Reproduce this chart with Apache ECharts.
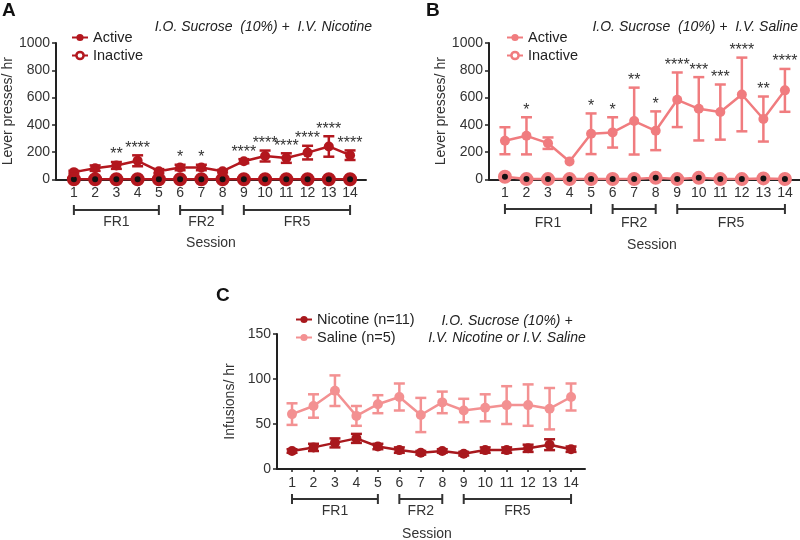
<!DOCTYPE html>
<html>
<head>
<meta charset="utf-8">
<script src="https://cdn.jsdelivr.net/npm/echarts@6/dist/echarts.min.js"></script>
<style>
  html, body { margin: 0; padding: 0; background: #fff; }
  #chart { width: 800px; height: 540px; }
</style>
</head>
<body>
<div id="chart"></div>
<script>
// sessions 1..14
const sessions = [1, 2, 3, 4, 5, 6, 7, 8, 9, 10, 11, 12, 13, 14];

// A: sucrose + nicotine, lever presses / hr (mean, sem)
const activeA = [54, 83, 103, 137, 61, 88, 88, 61, 134, 172, 157, 197, 242, 178];
const activeASem = [10, 20, 25, 40, 15, 20, 20, 10, 15, 40, 35, 50, 75, 35];
const inactiveA = [2, 2, 2, 2, 2, 2, 2, 2, 2, 2, 2, 2, 2, 2];
const starsA = ['', '', '**', '****', '', '*', '*', '', '****', '****', '****', '****', '****', '****'];

// B: sucrose + saline
const activeB = [284, 320, 266, 132, 335, 345, 428, 357, 584, 518, 494, 623, 443, 653];
const activeBSem = [99, 136, 42, 0, 149, 111, 245, 142, 200, 232, 202, 270, 165, 157];
const inactiveB = [20, 3, 3, 3, 3, 4, 4, 12, 3, 12, 3, 3, 8, 4];
const starsB = ['', '*', '', '', '*', '*', '**', '*', '****', '***', '***', '****', '**', '****'];

// C: infusions / hr
const nicotineC = [20, 24, 29, 34, 25, 21, 18, 20, 17, 21, 21, 23, 27, 22];
const nicotineCSem = [2, 4, 5, 5, 3, 3, 2, 2, 2, 3, 3, 4, 6, 3];
const salineC = [61, 70, 87, 59, 72, 80, 60, 74, 65, 68, 71, 71, 67, 80];
const salineCSem = [12, 13, 17, 11, 10, 15, 19, 12, 13, 15, 21, 23, 23, 15];

// schedule brackets
const phases = [
    { label: 'FR1', from: 1, to: 5 },
    { label: 'FR2', from: 6, to: 8 },
    { label: 'FR5', from: 9, to: 14 }
];

const FONT = '"Liberation Sans", Arial, sans-serif';
const DARK_RED = '#b3171e';
const SALMON = '#f07c7f';
const NIC_RED = '#a8181d';
const SAL_PINK = '#f39192';
const AXIS = '#222';

const myChart = echarts.init(document.getElementById('chart'));

function xAxisOf(idx, min, max) {
    return {
        type: 'value', gridIndex: idx, min: min, max: max,
        axisLine: { show: true, lineStyle: { color: AXIS, width: 2 } },
        axisTick: { show: true, length: 3, customValues: sessions, lineStyle: { color: AXIS, width: 1.5 } },
        axisLabel: { customValues: sessions, fontSize: 14, color: '#333', margin: 7, fontFamily: FONT },
        splitLine: { show: false }
    };
}

function yAxisOf(idx, max, interval, name) {
    return {
        type: 'value', gridIndex: idx, min: 0, max: max, interval: interval,
        name: name, nameLocation: 'middle', nameGap: 40,
        nameTextStyle: { fontSize: 14, color: '#333', fontFamily: FONT },
        axisLine: { show: true, lineStyle: { color: AXIS, width: 2 } },
        axisTick: { show: true, length: 4, lineStyle: { color: AXIS, width: 1.5 } },
        axisLabel: { fontSize: 14, color: '#333', margin: 6, fontFamily: FONT, formatter: v => String(v) },
        splitLine: { show: false }
    };
}

function lineSeries(name, idx, values, color, opts) {
    opts = opts || {};
    return {
        name: name, type: 'line', xAxisIndex: idx, yAxisIndex: idx,
        data: values.map((v, i) => [sessions[i], v]),
        symbol: 'circle', symbolSize: opts.size || 10,
        lineStyle: { color: color, width: 2.5 },
        itemStyle: opts.hollow
            ? { color: '#111', borderColor: color, borderWidth: 4 }
            : { color: color },
        z: opts.z || 4,
        animation: false
    };
}

// error bars + significance stars
function errorSeries(idx, means, sems, color, stars) {
    return {
        type: 'custom', xAxisIndex: idx, yAxisIndex: idx, z: 5,
        data: means.map((m, i) => [sessions[i], m - sems[i], m + sems[i]]),
        encode: { x: 0, y: [1, 2] },
        renderItem: (params, api) => {
            const x = api.value(0);
            const lo = api.coord([x, api.value(1)]);
            const hi = api.coord([x, api.value(2)]);
            const w = 5.5;
            const kids = [];
            if (lo[1] - hi[1] > 1) {
                const st = { stroke: color, lineWidth: 2.5 };
                kids.push({ type: 'line', shape: { x1: hi[0], y1: hi[1], x2: lo[0], y2: lo[1] }, style: st });
                kids.push({ type: 'line', shape: { x1: hi[0] - w, y1: hi[1], x2: hi[0] + w, y2: hi[1] }, style: st });
                kids.push({ type: 'line', shape: { x1: lo[0] - w, y1: lo[1], x2: lo[0] + w, y2: lo[1] }, style: st });
            }
            const s = stars && stars[params.dataIndex];
            if (s) {
                kids.push({
                    type: 'text', x: hi[0], y: hi[1] + 1,
                    style: { text: s, align: 'center', verticalAlign: 'bottom', fontSize: 16, fill: '#333', fontFamily: FONT }
                });
            }
            return { type: 'group', children: kids };
        },
        animation: false
    };
}

function legendOf(left, top, items) {
    return {
        left: left, top: top, orient: 'vertical',
        data: items, selectedMode: false,
        formatter: n => n.split('|')[1],
        itemWidth: 16, itemHeight: 9, itemGap: 3,
        textStyle: { fontSize: 14.5, color: '#222', fontFamily: FONT }
    };
}

myChart.setOption({
    backgroundColor: '#fff',
    animation: false,
    grid: [
        { left: 54, top: 43, width: 312, height: 136.5 },
        { left: 489, top: 43, width: 311, height: 136.5 },
        { left: 277, top: 334, width: 308, height: 135 }
    ],
    xAxis: [xAxisOf(0, 0.16, 14.75), xAxisOf(1, 0.26, 14.7), xAxisOf(2, 0.3, 14.65)],
    yAxis: [
        yAxisOf(0, 1000, 200, 'Lever presses/ hr'),
        yAxisOf(1, 1000, 200, 'Lever presses/ hr'),
        yAxisOf(2, 150, 50, 'Infusions/ hr')
    ],
    legend: [
        legendOf(66, 25, [{ name: 'A|Active' }, { name: 'A|Inactive', itemStyle: { color: '#fff', borderColor: DARK_RED, borderWidth: 2.5 } }]),
        legendOf(501, 25, [{ name: 'B|Active' }, { name: 'B|Inactive', itemStyle: { color: '#fff', borderColor: SALMON, borderWidth: 2.5 } }]),
        legendOf(290, 307, [{ name: 'C|Nicotine (n=11)' }, { name: 'C|Saline (n=5)' }])
    ],
    series: [
        lineSeries('A|Inactive', 0, inactiveA, DARK_RED, { hollow: true, z: 3 }),
        lineSeries('A|Active', 0, activeA, DARK_RED),
        errorSeries(0, activeA, activeASem, DARK_RED, starsA),
        lineSeries('B|Inactive', 1, inactiveB, SALMON, { hollow: true, z: 3 }),
        lineSeries('B|Active', 1, activeB, SALMON),
        errorSeries(1, activeB, activeBSem, SALMON, starsB),
        lineSeries('C|Saline (n=5)', 2, salineC, SAL_PINK),
        errorSeries(2, salineC, salineCSem, SAL_PINK),
        lineSeries('C|Nicotine (n=11)', 2, nicotineC, NIC_RED),
        errorSeries(2, nicotineC, nicotineCSem, NIC_RED)
    ]
});

// brackets, phase labels and panel text
function txt(x, y, text, extra) {
    return {
        type: 'text', x: x, y: y,
        style: Object.assign({ text: text, fontSize: 14, fill: '#333', fontFamily: FONT, align: 'center', verticalAlign: 'middle' }, extra || {})
    };
}

function brackets(idx, y, labelY) {
    const out = [];
    phases.forEach(p => {
        const x1 = myChart.convertToPixel({ xAxisIndex: idx }, p.from);
        const x2 = myChart.convertToPixel({ xAxisIndex: idx }, p.to);
        const st = { stroke: '#333', lineWidth: 2 };
        out.push({ type: 'line', shape: { x1: x1, y1: y, x2: x2, y2: y }, style: st });
        out.push({ type: 'line', shape: { x1: x1, y1: y - 5, x2: x1, y2: y + 5 }, style: st });
        out.push({ type: 'line', shape: { x1: x2, y1: y - 5, x2: x2, y2: y + 5 }, style: st });
        out.push(txt((x1 + x2) / 2, labelY, p.label));
    });
    return out;
}

const italic = { fontStyle: 'italic', align: 'right', fill: '#222' };
const bold = { fontWeight: 'bold', fontSize: 19, fill: '#111', align: 'left' };

myChart.setOption({
    graphic: [].concat(
        brackets(0, 210, 222),
        brackets(1, 209, 223),
        brackets(2, 499, 511),
        [
            txt(211, 243, 'Session'),
            txt(652, 245, 'Session'),
            txt(427, 534, 'Session'),
            txt(372, 27, 'I.O. Sucrose  (10%) +  I.V. Nicotine', italic),
            txt(798, 27, 'I.O. Sucrose  (10%) +  I.V. Saline', italic),
            txt(507, 321, 'I.O. Sucrose (10%) +', Object.assign({}, italic, { align: 'center' })),
            txt(507, 338, 'I.V. Nicotine or I.V. Saline', Object.assign({}, italic, { align: 'center' })),
            txt(2, 11, 'A', bold),
            txt(426, 11, 'B', bold),
            txt(216, 296, 'C', bold)
        ]
    )
});
</script>
</body>
</html>
